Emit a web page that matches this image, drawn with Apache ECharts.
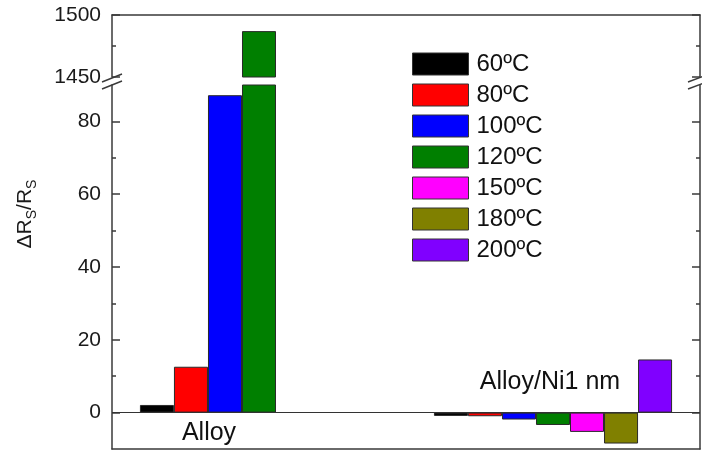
<!DOCTYPE html>
<html>
<head>
<meta charset="utf-8">
<script src="https://cdn.jsdelivr.net/npm/echarts@6/dist/echarts.min.js"></script>
<style>html,body{margin:0;padding:0;background:#fff}#c{width:702px;height:452px}</style>
</head>
<body>
<div id="c"></div>
<script>
const categories = ['Alloy', 'Alloy/Ni1 nm'];
const seriesNames = ['60ºC', '80ºC', '100ºC', '120ºC', '150ºC', '180ºC', '200ºC'];
const v60 = [2.1, -0.9];
const v80 = [12.6, -1.0];
const v100 = [87.2, -1.9];
const v120 = [1487, -3.4];
const v150 = [null, -5.3];
const v180 = [null, -8.5];
const v200 = [null, 14.6];
const seriesValues = [v60, v80, v100, v120, v150, v180, v200];
const colors = ['#000000', '#FF0000', '#0000FF', '#007F00', '#FF00FF', '#808000', '#8000FF'];
const lowerMajorTicks = [0, 20, 40, 60, 80];
const lowerMinorTicks = [10, 30, 50, 70];
const upperMajorTicks = [1450, 1500];
const upperMinorTicks = [1475];

const FONT = 'Liberation Sans, Arial, sans-serif';
const AX = '#3a3a3a';
const chart = echarts.init(document.getElementById('c'), null, {renderer: 'canvas'});

function yAx(grid, min, max, pos, ticks, len, labels, line) {
  return {
    type: 'value', gridIndex: grid, min: min, max: max, position: pos,
    splitLine: {show: false},
    axisLine: {show: line, onZero: false, lineStyle: {color: AX, width: 1.5}},
    axisTick: {show: true, inside: true, length: len, customValues: ticks, lineStyle: {color: AX, width: 1.5}},
    axisLabel: labels ? {show: true, customValues: labels, fontSize: 21, fontFamily: FONT, color: '#1a1a1a', margin: 11,
      formatter: v => String(v)} : {show: false}
  };
}

const series = [];
seriesNames.forEach((n, i) => {
  series.push({
    name: n, type: 'bar', xAxisIndex: 1, yAxisIndex: 4, data: seriesValues[i],
    barGap: '0%', barCategoryGap: '19%', clip: true,
    itemStyle: {color: colors[i], borderColor: '#2a2a2a', borderWidth: 1},
    markLine: i === 0 ? {silent: true, symbol: 'none', label: {show: false},
      lineStyle: {color: '#333', width: 1.2, type: 'solid'}, data: [{yAxis: 0}]} : undefined
  });
});
seriesNames.forEach((n, i) => {
  series.push({
    name: n, type: 'bar', xAxisIndex: 0, yAxisIndex: 0, data: seriesValues[i],
    barGap: '0%', barCategoryGap: '19%', clip: true,
    itemStyle: {color: colors[i], borderColor: '#2a2a2a', borderWidth: 1}
  });
});

const option = {
  animation: false,
  backgroundColor: '#fff',
  grid: [
    {left: 112, right: 2, top: 15, height: 62},
    {left: 112, right: 2, top: 85, bottom: 3}
  ],
  xAxis: [
    {type: 'category', gridIndex: 0, data: categories, position: 'top',
     axisLine: {show: true, lineStyle: {color: AX, width: 1.5}}, axisTick: {show: false}, axisLabel: {show: false}},
    {type: 'category', gridIndex: 1, data: categories, position: 'bottom',
     axisLine: {show: true, onZero: false, lineStyle: {color: AX, width: 1.5}}, axisTick: {show: false}, axisLabel: {show: false}}
  ],
  yAxis: [
    yAx(0, 1450, 1500, 'left', upperMajorTicks, 8, upperMajorTicks, true),
    yAx(0, 1450, 1500, 'left', upperMinorTicks, 4, null, false),
    yAx(0, 1450, 1500, 'right', upperMajorTicks, 8, null, true),
    yAx(0, 1450, 1500, 'right', upperMinorTicks, 4, null, false),
    yAx(1, -10, 90, 'left', lowerMajorTicks, 8, lowerMajorTicks, true),
    yAx(1, -10, 90, 'left', lowerMinorTicks, 4, null, false),
    yAx(1, -10, 90, 'right', lowerMajorTicks, 8, null, true),
    yAx(1, -10, 90, 'right', lowerMinorTicks, 4, null, false)
  ],
  legend: {
    data: seriesNames, orient: 'vertical', left: 412, top: 52, padding: 0,
    itemWidth: 56, itemHeight: 22, itemGap: 7, icon: 'rect',
    itemStyle: {borderColor: '#333', borderWidth: 1},
    textStyle: {fontSize: 24, fontFamily: FONT, color: '#111', lineHeight: 22, height: 22, padding: [0, 0, 0, 3]}
  },
  graphic: [
    {type: 'text', x: 25, y: 214, rotation: Math.PI / 2,
     style: {text: 'ΔR{s|S}/R{s|S}', fontSize: 21, fontFamily: FONT, fill: '#1a1a1a', align: 'center', verticalAlign: 'middle', lineHeight: 28,
       rich: {s: {fontSize: 14, fontFamily: FONT, fill: '#1a1a1a', verticalAlign: 'bottom', lineHeight: 14}}}},
    {type: 'text', x: 209, y: 433, style: {text: categories[0], fontSize: 25, fontFamily: FONT, fill: '#111', align: 'center', verticalAlign: 'middle'}},
    {type: 'text', x: 550, y: 382, style: {text: categories[1], fontSize: 25, fontFamily: FONT, fill: '#111', align: 'center', verticalAlign: 'middle'}},
    {type: 'line', shape: {x1: 102, y1: 82, x2: 122, y2: 74}, style: {stroke: AX, lineWidth: 1.5}},
    {type: 'line', shape: {x1: 102, y1: 89, x2: 122, y2: 81}, style: {stroke: AX, lineWidth: 1.5}},
    {type: 'line', shape: {x1: 688, y1: 82, x2: 704, y2: 76}, style: {stroke: AX, lineWidth: 1.5}},
    {type: 'line', shape: {x1: 688, y1: 89, x2: 704, y2: 83}, style: {stroke: AX, lineWidth: 1.5}}
  ],
  series: series
};
chart.setOption(option);
</script>
</body>
</html>
